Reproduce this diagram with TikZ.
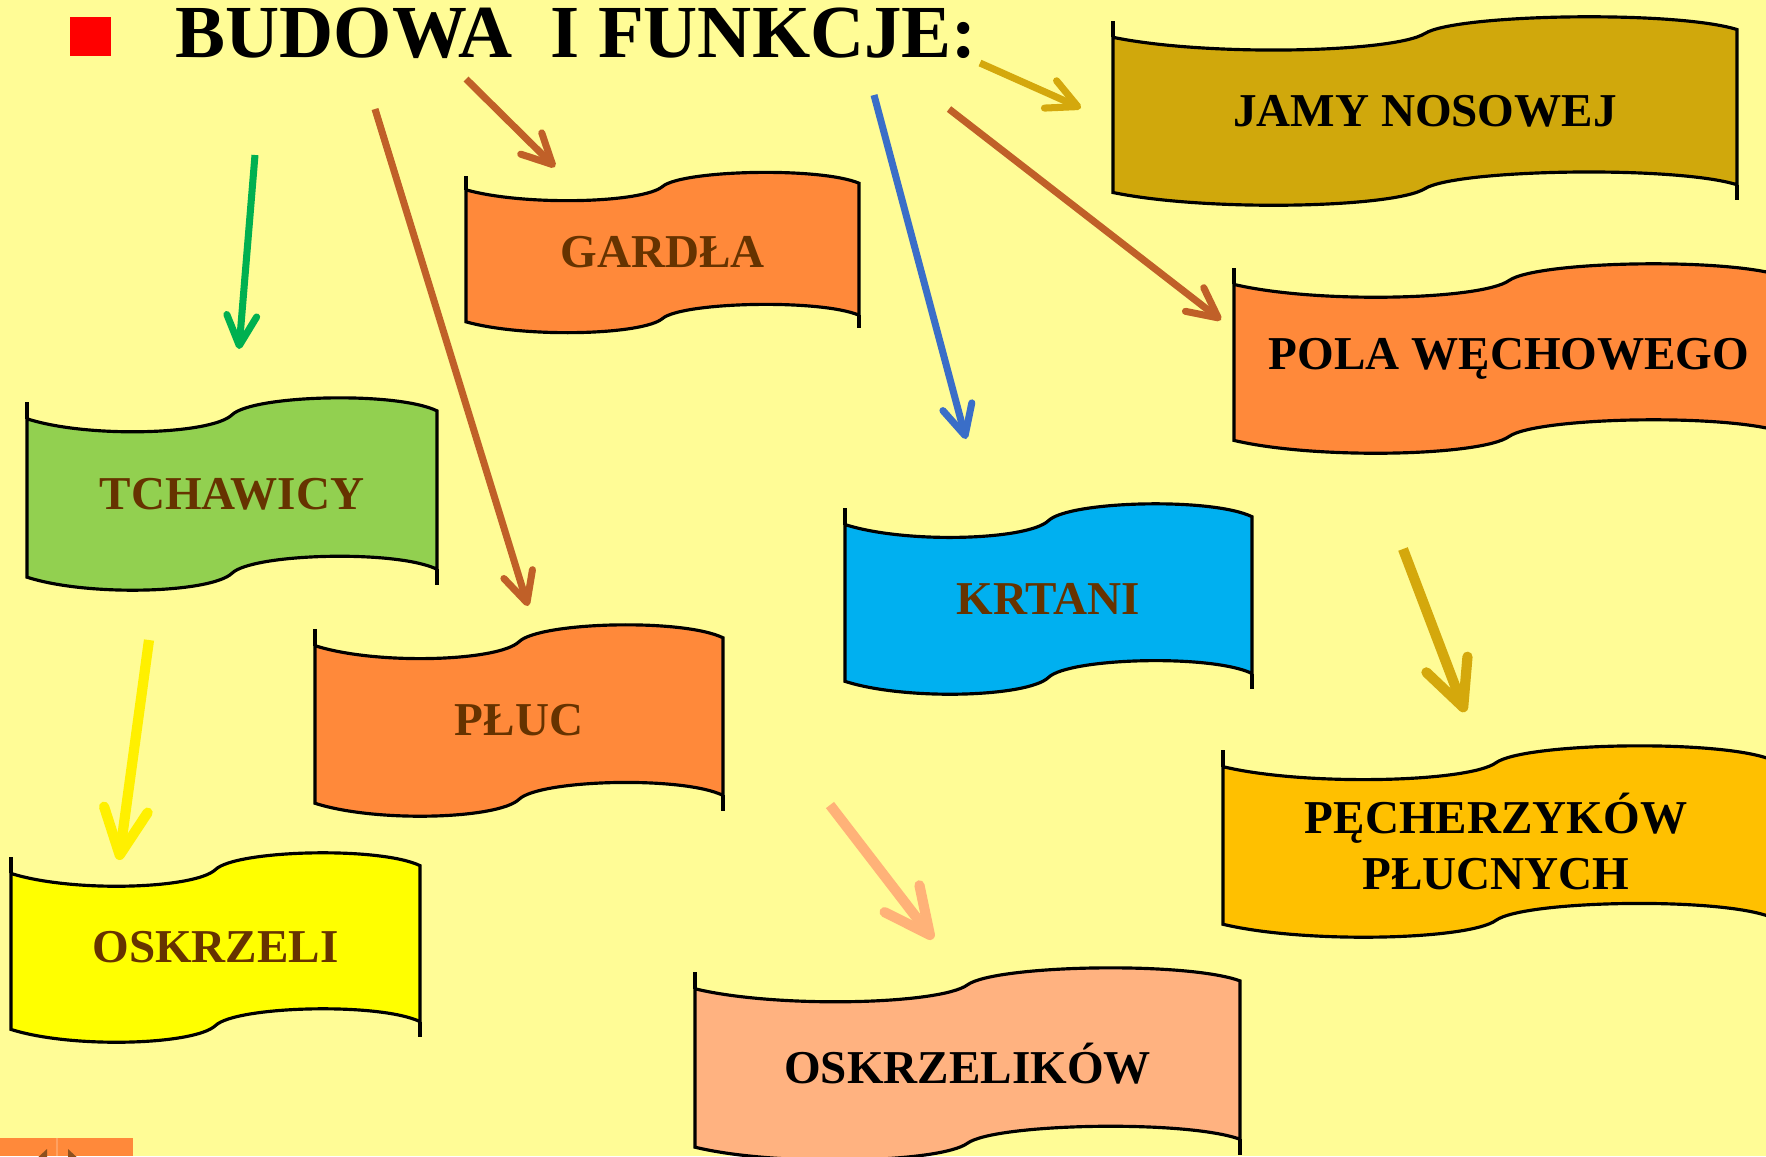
\documentclass[tikz,border=0pt]{standalone}
\usepackage{fontspec}
\setmainfont{Liberation Serif}
\usetikzlibrary{arrows.meta}
\definecolor{bgyellow}{RGB}{255,252,150}
\definecolor{darkgold}{RGB}{208,168,12}
\definecolor{flagorange}{RGB}{255,137,58}
\definecolor{flaggreen}{RGB}{146,208,80}
\definecolor{flagblue}{RGB}{0,176,240}
\definecolor{flaggold}{RGB}{255,192,0}
\definecolor{flagyellow}{RGB}{255,255,0}
\definecolor{flagsalmon}{RGB}{255,178,128}
\definecolor{txtbrown}{RGB}{102,51,0}
\definecolor{arrgreen}{RGB}{0,176,80}
\definecolor{arrbrown}{RGB}{192,96,40}
\definecolor{arrblue}{RGB}{58,110,200}
\definecolor{arrgold}{RGB}{212,168,12}
\definecolor{arryellow}{RGB}{255,240,0}
\definecolor{arrsalmon}{RGB}{255,178,120}
\definecolor{navorange}{RGB}{255,137,58}
\definecolor{navbrown}{RGB}{140,80,30}

% wavy flag: name, left, top, width, height, fill, text colour, text
\newcommand{\flag}[8]{%
  \begin{scope}[shift={(#2,#3)}, x={(#4*0.01cm,0cm)}, y={(0cm,-#5*0.01cm)}]
    \filldraw[fill=#6, line width=0.9pt] (0,0.12) .. controls (0.15,0.22) and (0.45,0.2) .. (0.5,0.1)
      .. controls (0.55,0) and (0.9,-0.02) .. (1,0.08) -- (1,0.88)
      .. controls (0.9,0.78) and (0.55,0.8) .. (0.5,0.9)
      .. controls (0.45,1.0) and (0.15,1.02) .. (0,0.92) -- cycle;
    \draw[line width=0.9pt] (0,0.12) -- (0,0.035) (1,0.88) -- (1,0.96);
    \node[flagtext, text=#7] (#1) at (0.5,0.5) {#8};
  \end{scope}}

\begin{document}
\begin{tikzpicture}[x=0.01cm, y=-0.01cm,
  flagtext/.style={font=\bfseries\fontsize{13.4}{16}\selectfont, align=center},
  arr/.style={line width=2pt, -{Straight Barb[length=8.5pt, width=8.5pt, round]}},
  bigarr/.style={line width=2.9pt, -{Straight Barb[length=13pt, width=12.5pt, round]}}]
  \useasboundingbox (0,0) rectangle (1766,1156);
  \clip (0,0) rectangle (1766,1156);
  \fill[bgyellow] (0,0) rectangle (1766,1156);

  % title
  \fill[red] (70,17) rectangle (111,56);
  \node[anchor=base west, inner sep=0pt, font=\bfseries\fontsize{21.3}{25}\selectfont] (title) at (175,57) {BUDOWA\ \ I FUNKCJE:};

  % flags
  \flag{jamy}{1113}{14}{624}{194}{darkgold}{black}{JAMY NOSOWEJ}
  \flag{gardla}{466}{170}{393}{165}{flagorange}{txtbrown}{GARDŁA}
  \flag{pola}{1234}{261}{550}{195}{flagorange}{black}{POLA WĘCHOWEGO}
  \flag{tchawica}{27}{395}{410}{198}{flaggreen}{txtbrown}{TCHAWICY}
  \flag{krtan}{845}{501}{407}{196}{flagblue}{txtbrown}{KRTANI}
  \flag{pluca}{315}{622}{408}{197}{flagorange}{txtbrown}{PŁUC}
  \flag{pecherz}{1223}{743}{546}{197}{flaggold}{black}{PĘCHERZYKÓW\\PŁUCNYCH}
  \flag{oskrzela}{11}{850}{409}{195}{flagyellow}{txtbrown}{OSKRZELI}
  \flag{oskrzeliki}{695}{965}{545}{198}{flagsalmon}{black}{OSKRZELIKÓW}

  % arrow ends
  \coordinate (tch-s) at (255,155);  \coordinate (tch-e) at (239,349);
  \coordinate (plu-s) at (375,109);  \coordinate (plu-e) at (528,606);
  \coordinate (gar-s) at (466,79);   \coordinate (gar-e) at (555,167);
  \coordinate (krt-s) at (874,95);   \coordinate (krt-e) at (966,439);
  \coordinate (jam-s) at (980,63);   \coordinate (jam-e) at (1081,108);
  \coordinate (pol-s) at (949,109);  \coordinate (pol-e) at (1221,320);
  \coordinate (pec-s) at (1403,549); \coordinate (pec-e) at (1465,712);
  \coordinate (osk-s) at (149,640);  \coordinate (osk-e) at (119,860);
  \coordinate (oki-s) at (830,805);  \coordinate (oki-e) at (933,939);

  \draw[arr, arrgreen] (tch-s) -- (tch-e);
  \draw[arr, arrbrown] (plu-s) -- (plu-e);
  \draw[arr, arrbrown] (gar-s) -- (gar-e);
  \draw[arr, arrblue] (krt-s) -- (krt-e);
  \draw[arr, arrgold] (jam-s) -- (jam-e);
  \draw[arr, arrbrown] (pol-s) -- (pol-e);
  \draw[bigarr, arrgold] (pec-s) -- (pec-e);
  \draw[bigarr, arryellow] (osk-s) -- (osk-e);
  \draw[bigarr, arrsalmon] (oki-s) -- (oki-e);

  % slide buttons
  \fill[navorange] (0,1138) rectangle (133,1156);
  \draw[navorange!80!white] (57,1138) -- (57,1156);
  \fill[navbrown] (47,1149) -- (47,1175) -- (33,1162) -- cycle;
  \fill[navbrown] (68,1149) -- (68,1175) -- (82,1162) -- cycle;
\end{tikzpicture}
\end{document}
